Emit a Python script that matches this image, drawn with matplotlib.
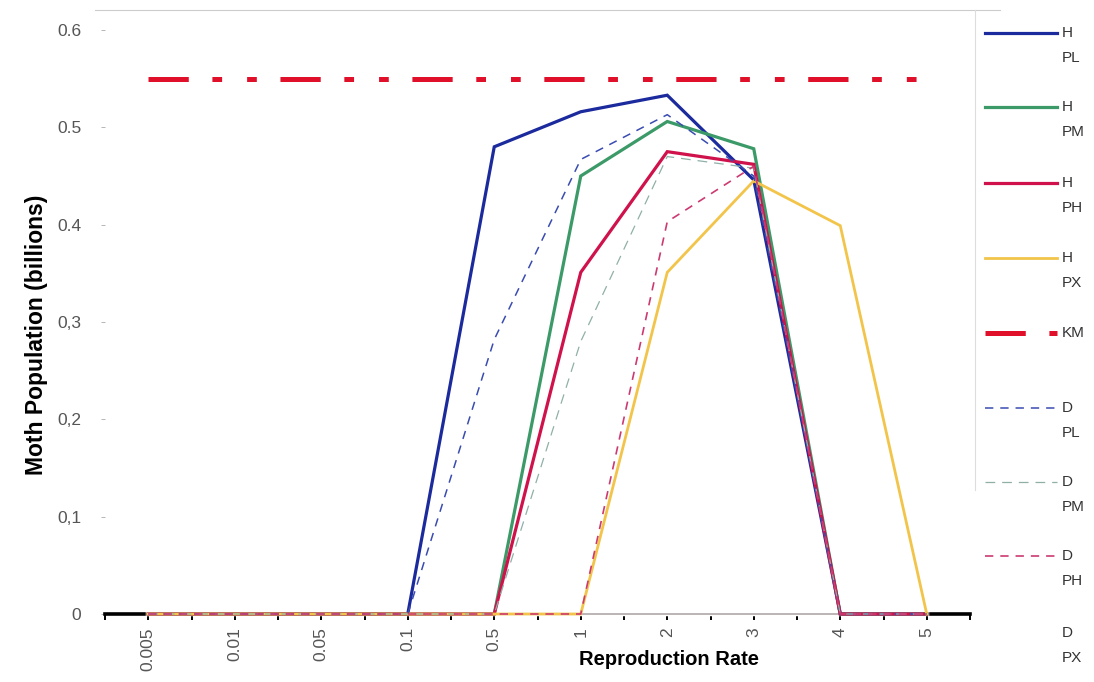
import matplotlib
matplotlib.use("Agg")
import matplotlib.pyplot as plt
from matplotlib.lines import Line2D
import numpy as np

plt.rcParams['font.family'] = ['Liberation Sans', 'DejaVu Sans']
plt.rcParams['lines.scale_dashes'] = False

categories = ["0.005", "0.01", "0.05", "0.1", "0.5", "1", "2", "3", "4", "5"]
h_pl = [0, 0, 0, 0, 0.480, 0.516, 0.533, 0.446, 0, 0]
h_pm = [0, 0, 0, 0, 0, 0.450, 0.506, 0.478, 0, 0]
h_ph = [0, 0, 0, 0, 0, 0.351, 0.475, 0.462, 0, 0]
h_px = [0, 0, 0, 0, 0, 0, 0.351, 0.445, 0.399, 0]
km = [0.55] * 10
d_pl = [0, 0, 0, 0, 0.282, 0.467, 0.513, 0.450, 0, 0]
d_pm = [0, 0, 0, 0, 0, 0.280, 0.470, 0.458, 0, 0]
d_ph = [0, 0, 0, 0, 0, 0, 0.403, 0.460, 0, 0]
d_px = [0] * 10

yticks = [0, 0.1, 0.2, 0.3, 0.4, 0.5, 0.6]
ytick_labels = ["0", "0,1", "0,2", "0,3", "0.4", "0.5", "0.6"]

series = [
    ("D\nPX", d_px, dict(color="#b0a8a8", lw=1.2, ls="-")),
    ("H\nPL", h_pl, dict(color="#1b2a9c", lw=2.3, ls="-")),
    ("H\nPM", h_pm, dict(color="#3c9a68", lw=2.3, ls="-")),
    ("H\nPH", h_ph, dict(color="#d0124c", lw=2.3, ls="-")),
    ("H\nPX", h_px, dict(color="#f2c44a", lw=2.0, ls="-")),
    ("KM", km, dict(color="#e0102a", lw=3.6, ls=(0, (29, 17, 7, 18, 7, 17)))),
    ("D\nPL", d_pl, dict(color="#3a4cb0", lw=1.1, ls=(0, (6, 5)))),
    ("D\nPM", d_pm, dict(color="#8fb0a8", lw=0.9, ls=(0, (7, 5)))),
    ("D\nPH", d_ph, dict(color="#cc3a72", lw=1.2, ls=(0, (6, 5)))),
]

W, H = 1094, 682
fig = plt.figure(figsize=(W / 100, H / 100), dpi=100)
ax = fig.add_axes([105 / W, (H - 614) / H, (970 - 105) / W, (614 - 30) / H])

x = np.arange(len(categories))
# white underlay of the all-zero series hides the black axis line under the data range
ax.plot(x, d_px, color="white", lw=3.2, zorder=2.5, clip_on=False)
for name, vals, st in series:
    ax.plot(x, vals, color=st["color"], lw=st["lw"], ls=st["ls"], zorder=3,
            solid_joinstyle="miter", clip_on=False)

ax.set_xlim(-0.5, len(categories) - 0.5)
ax.set_ylim(0, 0.6)
ax.set_xticks(x)
ax.set_xticklabels(categories, rotation=90, color="#555555", fontsize=12.5)
ax.set_xticks(np.arange(-0.5, len(categories), 1.0), minor=True)
ax.tick_params(axis="x", which="both", direction="out", length=4.5, width=1.4,
               color="black", pad=5)
ax.set_yticks(yticks)
ax.set_yticklabels(ytick_labels, color="#555555", fontsize=12.5)
ax.tick_params(axis="y", which="both", direction="out", length=3, width=0.6,
               color="#aaaaaa", pad=14)

for s in ["top", "right", "left"]:
    ax.spines[s].set_visible(False)
ax.spines["bottom"].set_color("black")
ax.spines["bottom"].set_linewidth(2.6)
ax.spines["bottom"].set_zorder(2)

ax.set_xlabel("Reproduction Rate", fontsize=14.5, fontweight="bold")
ax.xaxis.set_label_coords((669 - 105) / (970 - 105), -(650 - 614) / (614 - 30))
ax.set_ylabel("Moth Population (billions)", fontsize=16.5, fontweight="bold")
ax.yaxis.set_label_coords(-(105 - 48) / (970 - 105), (614 - 335) / (614 - 30))


def fy(y):
    return (H - y) / H


def fx(xp):
    return xp / W


# faint plot-area frame remnants
fig.add_artist(Line2D([fx(95), fx(1000)], [fy(10), fy(10)], color="#cccccc", lw=0.8))
fig.add_artist(Line2D([fx(975), fx(975)], [fy(10), fy(490)], color="#dddddd", lw=0.8))

# legend (manual, to put handle at first text line)
legend_order = ["H\nPL", "H\nPM", "H\nPH", "H\nPX", "KM", "D\nPL", "D\nPM", "D\nPH", "D\nPX"]
style = {name: st for name, vals, st in series}
leg_y = [33, 107, 183, 258, 333, 408, 482, 556, 633]
for name, yy in zip(legend_order, leg_y):
    st = style[name]
    if name != "D\nPX":
        fig.add_artist(Line2D([fx(985), fx(1057)], [fy(yy), fy(yy)], color=st["color"],
                              lw=st["lw"], ls=st["ls"]))
    parts = name.split("\n")
    fig.text(fx(1062), fy(yy), parts[0], fontsize=11, color="#333333",
             va="center", ha="left")
    if len(parts) > 1:
        fig.text(fx(1062), fy(yy + 25), parts[1], fontsize=11, color="#333333",
                 va="center", ha="left")

fig.savefig("out.png", dpi=100)
